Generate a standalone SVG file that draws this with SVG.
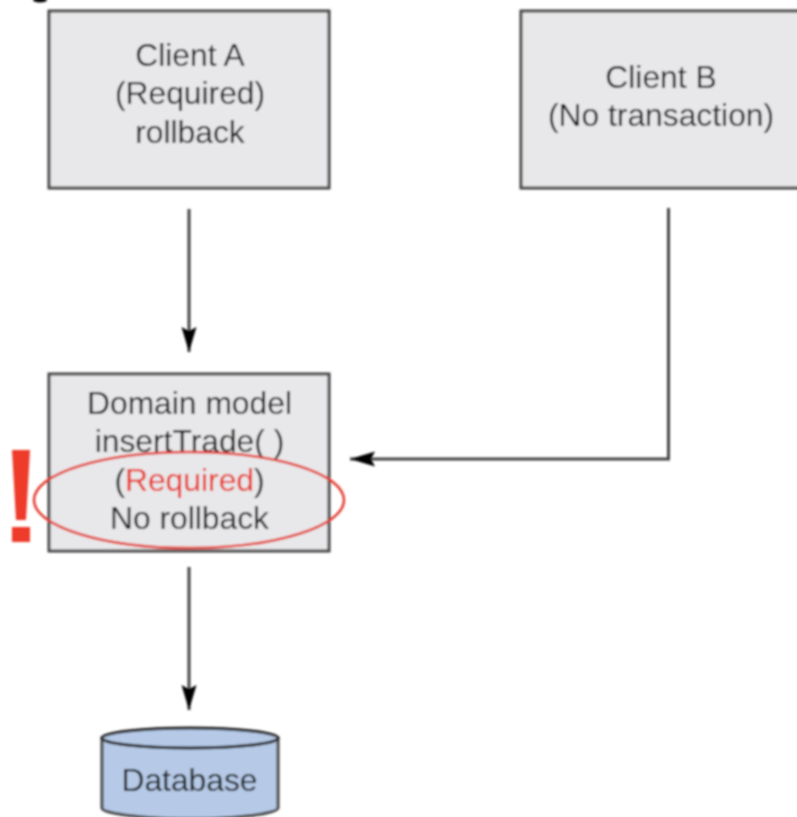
<svg xmlns="http://www.w3.org/2000/svg" width="797" height="817" viewBox="0 0 797 817">
<style>
text{font-family:"Liberation Sans",Arial,sans-serif;font-size:31.8px;fill:#111;text-anchor:middle}
.box{fill:#e8e8ea;stroke:#444;stroke-width:3}
.line{fill:none;stroke:#444;stroke-width:3}
.red{fill:#ee3a2a}
</style>
<defs>
<marker id="arrow" markerUnits="userSpaceOnUse" markerWidth="26" markerHeight="20" refX="25" refY="10" orient="auto">
<path d="M0 2.5L25 10L0 17.5L4 10Z" fill="#000"/>
</marker>
<filter id="soft" x="0" y="0" width="797" height="817" filterUnits="userSpaceOnUse"><feGaussianBlur stdDeviation="0.9"/></filter>
</defs>
<rect width="797" height="817" fill="#fff"/>
<g filter="url(#soft)">
<ellipse id="clipped-mark" cx="40" cy="0" rx="7" ry="2.5" fill="#000"/>
<g id="connectors">
<path class="line" d="M189 209V352" marker-end="url(#arrow)"/>
<path class="line" d="M668.500 208V459H350" marker-end="url(#arrow)"/>
<path class="line" d="M189 567V710" marker-end="url(#arrow)"/>
</g>
<g id="client-a">
<rect class="box" x="49" y="11" width="280" height="177"/>
<text x="190" y="66">Client A</text>
<text x="190" y="104">(Required)</text>
<text x="190" y="143">rollback</text>
</g>
<g id="client-b">
<rect class="box" x="521" y="11" width="280" height="177"/>
<text x="661" y="88">Client B</text>
<text x="661" y="126">(No transaction)</text>
</g>
<g id="domain-model">
<rect class="box" x="49" y="374" width="280" height="177"/>
<text x="189.500" y="414">Domain model</text>
<text x="189.500" y="452">insertTrade( )</text>
<text x="189.500" y="491">(<tspan fill="#e8281a">Required</tspan>)</text>
<text x="189.500" y="529">No rollback</text>
</g>
<g id="warning">
<ellipse cx="189" cy="500" rx="155" ry="48" fill="none" stroke="#e43a30" stroke-width="2.500"/>
<path class="red" d="M12 450H30L26 520H16ZM12 527H30V542H12Z"/>
</g>
<g id="database">
<path d="M102 738V808C102 814 150 819 190 819S278 814 278 808V738Z" fill="#b6cae8" stroke="#444" stroke-width="3"/>
<ellipse cx="190" cy="738" rx="88" ry="10" fill="#b6cae8" stroke="#222" stroke-width="3"/>
<text x="189.500" y="791">Database</text>
</g>
</g>
</svg>
